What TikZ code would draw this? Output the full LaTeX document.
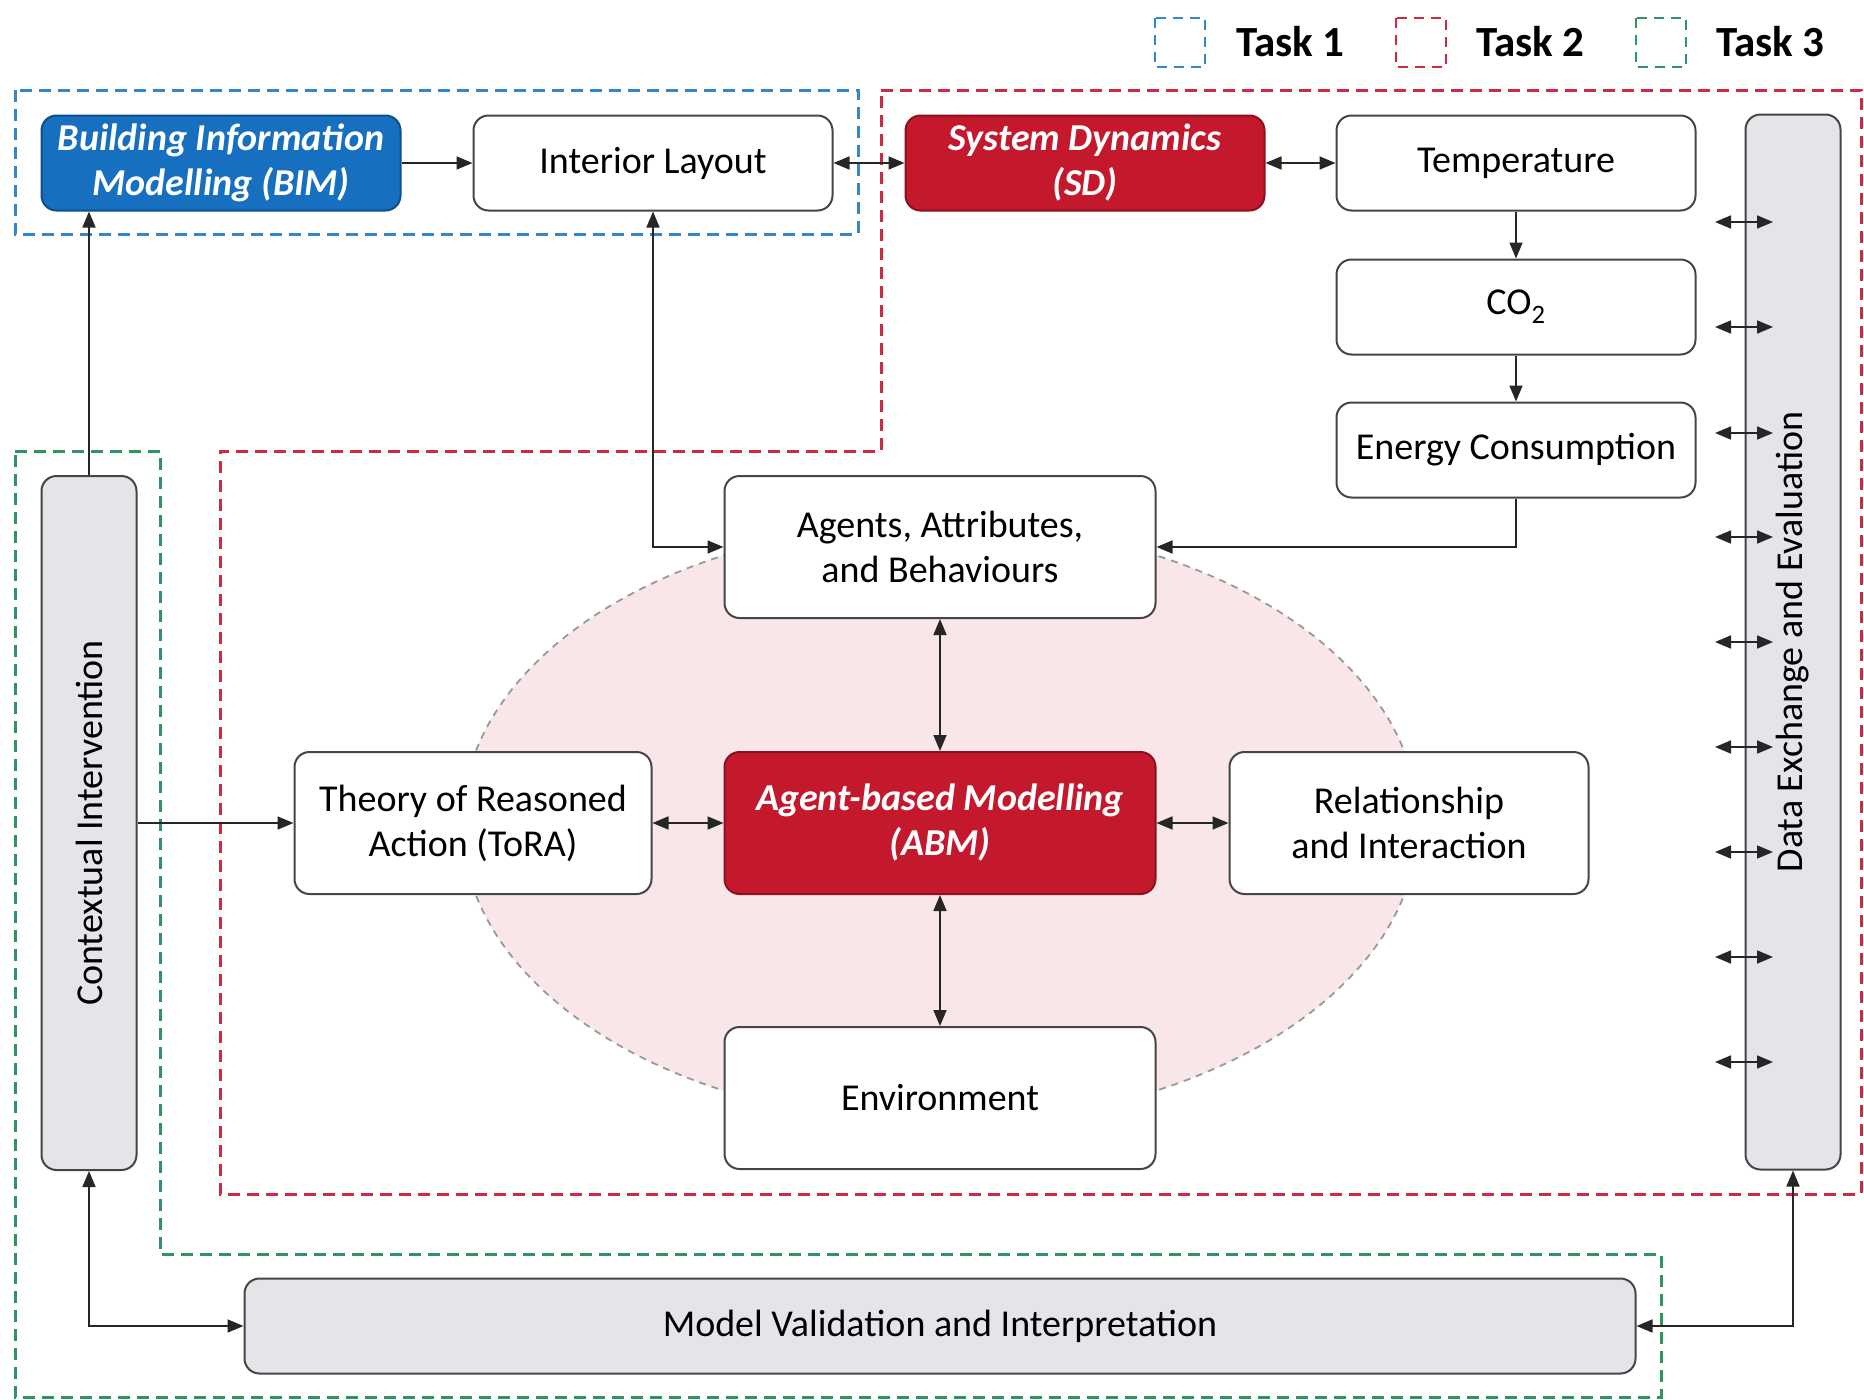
\documentclass[tikz,border=0pt]{standalone}
\usepackage{fontspec}
\setmainfont{Carlito}
\usetikzlibrary{arrows.meta}
\definecolor{bimblue}{HTML}{1670BF}
\definecolor{sdred}{HTML}{C4182D}
\definecolor{tblue}{HTML}{3388CC}
\definecolor{tred}{HTML}{D02A40}
\definecolor{tgreen}{HTML}{2E9560}
\definecolor{barfill}{HTML}{E4E5E8}
\definecolor{ellfill}{HTML}{F8E6E8}
\definecolor{edge}{HTML}{454545}
\tikzset{
  box/.style={draw=edge, line width=2pt, rounded corners=15pt, fill=white, align=center,
    inner sep=0pt, font=\fontsize{38}{45}\selectfont},
  wbox/.style={box, minimum width=359pt, minimum height=95pt},
  bigbox/.style={box, minimum width=431pt, minimum height=142pt},
  hotbox/.style={box, text=white, font=\fontsize{38}{45}\selectfont\bfseries\itshape},
  bar/.style={box, fill=barfill},
  arr/.style={line width=1.7pt, draw=black!85, -{Triangle[length=16pt,width=13pt]}},
  dbl/.style={line width=1.7pt, draw=black!85, {Triangle[length=16pt,width=13pt]}-{Triangle[length=16pt,width=13pt]}},
  taskline/.style={line width=3pt, dash pattern=on 12pt off 7pt},
  legtext/.style={anchor=west, font=\fontsize{43}{50}\selectfont\bfseries, inner sep=0pt}
}
\begin{document}
\begin{tikzpicture}[x=1pt,y=-1pt]
\useasboundingbox (0,0) rectangle (1864,1400);
% task regions
\draw[taskline, tblue] (15,90) rectangle (858,234);
\draw[taskline, tred] (881,90) -- (1861,90) -- (1861,1194) -- (220,1194) -- (220,451) -- (881,451) -- cycle;
\draw[taskline, tgreen] (15,451) -- (160,451) -- (160,1254) -- (1661,1254) -- (1661,1397) -- (15,1397) -- cycle;
% legend
\draw[line width=2.5pt, dash pattern=on 10pt off 7pt, tblue] (1155,18) rectangle (1205,67);
\node[legtext] (t1) at (1236,42) {Task 1};
\draw[line width=2.5pt, dash pattern=on 10pt off 7pt, tred] (1396,18) rectangle (1446,67);
\node[legtext] (t2) at (1476,42) {Task 2};
\draw[line width=2.5pt, dash pattern=on 10pt off 7pt, tgreen] (1636,18) rectangle (1686,67);
\node[legtext] (t3) at (1716,42) {Task 3};
% ellipse
\draw[fill=ellfill, draw=black!40, line width=1.8pt, dash pattern=on 7pt off 6pt] (940,823) ellipse [x radius=478pt, y radius=300pt];
% nodes
\node[wbox, hotbox, fill=bimblue, draw=bimblue!70!black] (bim) at (221,163) {Building Information\\Modelling (BIM)};
\node[wbox] (il) at (653,163) {Interior Layout};
\node[wbox, hotbox, fill=sdred, draw=sdred!70!black] (sd) at (1085,163) {System Dynamics\\(SD)};
\node[wbox] (temp) at (1516,163) {Temperature};
\node[wbox] (co) at (1516,307) {CO\textsubscript{2}};
\node[wbox] (en) at (1516,450) {Energy Consumption};
\node[bar, minimum width=95pt, minimum height=1055pt] (dee) at (1793,642) {};
\node[rotate=90, font=\fontsize{38}{45}\selectfont] (deet) at (dee.center) {Data Exchange and Evaluation};
\node[bar, minimum width=95pt, minimum height=694pt] (ci) at (89,823) {};
\node[rotate=90, font=\fontsize{38}{45}\selectfont] (cit) at (ci.center) {Contextual Intervention};
\node[bigbox] (ag) at (940,547) {Agents, Attributes,\\and Behaviours};
\node[bigbox, hotbox, fill=sdred, draw=sdred!70!black] (abm) at (940,823) {Agent-based Modelling\\(ABM)};
\node[box, minimum width=357pt, minimum height=142pt] (tora) at (473,823) {Theory of Reasoned\\Action (ToRA)};
\node[box, minimum width=359pt, minimum height=142pt] (rel) at (1409,823) {Relationship\\and Interaction};
\node[bigbox] (env) at (940,1098) {Environment};
\node[bar, minimum width=1391pt, minimum height=95pt] (mv) at (940,1326) {Model Validation and Interpretation};
% connectors
\draw[arr] (bim) -- (il);
\draw[dbl] (il) -- (sd);
\draw[dbl] (sd) -- (temp);
\draw[arr] (temp) -- (co);
\draw[arr] (co) -- (en);
\draw[arr] (en.south) |- (ag.east);
\draw[dbl] (il.south) |- (ag.west);
\draw[arr] (ci.north) -- (ci.north |- bim.south);
\draw[arr] (ci.east) -- (tora.west);
\draw[dbl] (tora) -- (abm);
\draw[dbl] (abm) -- (rel);
\draw[dbl] (ag) -- (abm);
\draw[dbl] (abm) -- (env);
\draw[dbl] (ci.south) |- (mv.west);
\draw[dbl] (dee.south) |- (mv.east);
\foreach \i/\y in {1/222,2/327,3/433,4/537,5/642,6/747,7/852,8/957,9/1062}{
  \coordinate (l\i) at (1715,\y);
  \coordinate (r\i) at (1773,\y);
  \draw[dbl] (l\i) -- (r\i);
}
\end{tikzpicture}
\end{document}
